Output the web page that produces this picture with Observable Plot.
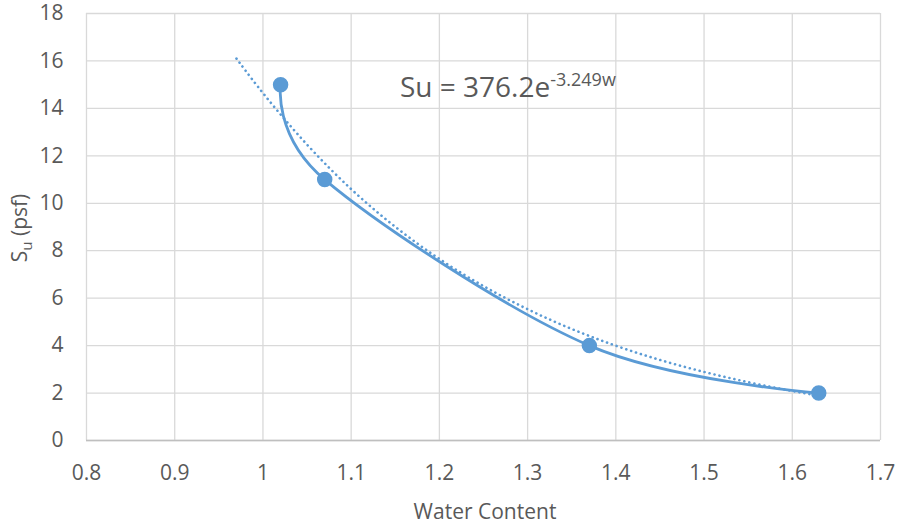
<!DOCTYPE html>
<html><head><meta charset="utf-8">
<script src="https://cdn.jsdelivr.net/npm/d3@7"></script>
<script src="https://cdn.jsdelivr.net/npm/@observablehq/plot@0.6"></script>
<style>
body{margin:0;background:#fff;}
svg text{font-family:"Open Sans",sans-serif;}
</style>
</head><body>
<div id="chart"></div>
<script>
// Measured points
const waterContent = [1.02, 1.07, 1.37, 1.63];
const su = [15, 11, 4, 2];
// Exponential trendline (Su = 376.2e^-3.249w)
const trendW = [0.97, 1.00, 1.05, 1.10, 1.15, 1.20, 1.25, 1.30, 1.35, 1.40, 1.45, 1.50, 1.55, 1.60, 1.63];
const trendSu = [16.10, 14.61, 12.42, 10.55, 8.97, 7.62, 6.48, 5.51, 4.68, 3.98, 3.38, 2.88, 2.45, 2.08, 1.89];
const xTicks = [0.8, 0.9, 1.0, 1.1, 1.2, 1.3, 1.4, 1.5, 1.6, 1.7];
const yTicks = [0, 2, 4, 6, 8, 10, 12, 14, 16, 18];

const pts = waterContent.map((w, i) => ({w, s: su[i]}));
const trend = trendW.map((w, i) => ({w, s: trendSu[i]}));
const blue = "#5B9BD5";
const textCol = "#595959";
const fmt = d => String(+d.toFixed(1));

const chart = Plot.plot({
  width: 897, height: 524,
  marginLeft: 86, marginRight: 17, marginTop: 13, marginBottom: 84,
  style: {fontFamily: "Open Sans, sans-serif", fontSize: "21px", color: textCol, background: "#fff"},
  x: {domain: [0.8, 1.7], label: null},
  y: {domain: [0, 18], label: null},
  marks: [
    Plot.gridX(xTicks, {stroke: "#d9d9d9", strokeOpacity: 1, strokeWidth: 1.3}),
    Plot.gridY(yTicks, {stroke: "#d9d9d9", strokeOpacity: 1, strokeWidth: 1.3}),
    Plot.ruleY([0], {stroke: "#bfbfbf", strokeWidth: 1.5}),
    Plot.axisX(xTicks, {tickSize: 0, tickPadding: 25, fontSize: 21, fill: textCol, tickFormat: fmt}),
    Plot.axisY(yTicks, {tickSize: 0, tickPadding: 23, fontSize: 21, fill: textCol}),
    Plot.line(trend, {x: "w", y: "s", stroke: blue, strokeWidth: 2.6, strokeDasharray: "0.1 5", strokeLinecap: "round", curve: "basis"}),
    Plot.line(pts, {x: "w", y: "s", stroke: blue, strokeWidth: 2.8, curve: "cardinal"}),
    Plot.dot(pts, {x: "w", y: "s", r: 7, fill: blue, stroke: blue})
  ]
});
document.getElementById("chart").appendChild(chart);

const svg = d3.select(chart);
svg.selectAll('[aria-label$="tick label"] text').style("font-size", "21px");
// X axis title
svg.append("text").attr("x", 485).attr("y", 519).attr("text-anchor", "middle")
  .attr("fill", textCol).style("font-size", "21px").text("Water Content");
// Y axis title with subscript
const yt = svg.append("text").attr("transform", "translate(27,228) rotate(-90)")
  .attr("text-anchor", "middle").attr("fill", textCol).style("font-size", "21px");
yt.append("tspan").text("S");
yt.append("tspan").attr("dy", 5).style("font-size", "15px").text("u");
yt.append("tspan").attr("dy", -5).text(" (psf)");
// Equation annotation
const eq = svg.append("text").attr("x", 400).attr("y", 97).attr("text-anchor", "start")
  .attr("fill", textCol).style("font-size", "28px");
eq.append("tspan").text("Su = 376.2e");
eq.append("tspan").attr("dy", -11).style("font-size", "18px").text("-3.249w");
</script>
</body></html>
